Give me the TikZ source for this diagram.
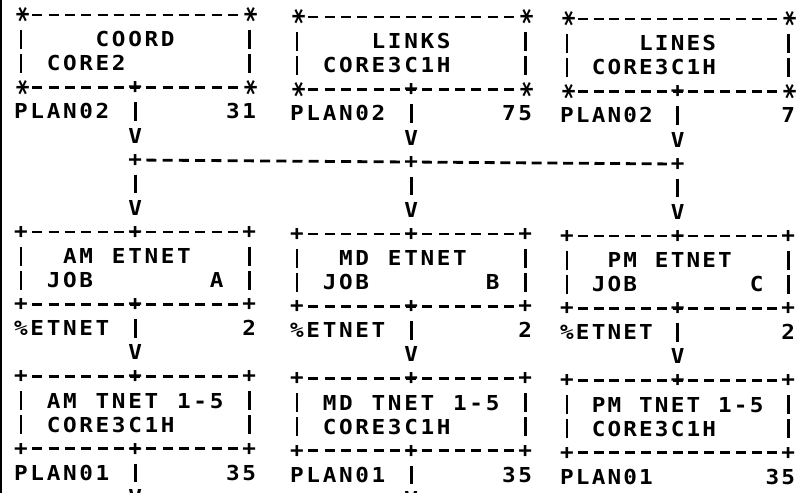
\documentclass[tikz,border=0pt]{standalone}
\usepackage{fontspec}
\newfontfamily\mono{DejaVu Sans Mono}[FakeStretch=1.1]
\newlength\cp \newlength\cg \newlength\cs
\makeatletter
\newcommand\spread[1]{\@tfor\sp@c:=#1\do{\makebox[\cp][c]{\sp@c}}}
\makeatother
\def\R#1{(15+24.1*((#1)-1))}
\tikzset{
  monofont/.style={font=\mono\bfseries\fontsize{20.6pt}{24pt}\selectfont},
  txt/.style={monofont, anchor=base west, inner sep=0pt, outer sep=0pt},
  glyph/.style={monofont, anchor=base, inner sep=0pt, outer sep=0pt},
  cornerglyph/.style={monofont, anchor=center, inner sep=0pt, outer sep=0pt, rotate=90, scale=1.3},
  frame/.style={rectangle, inner sep=0pt, outer sep=0pt, draw=none},
  hd/.style={line width=2.8pt, dash pattern=on 10pt off \cg, shorten <=\cs, shorten >=\cs},
  vd/.style={line width=2.8pt, dash pattern=on 19pt off 5.1pt, shorten <=14.6pt, shorten >=14.6pt},
  conn/.style={line width=2.8pt, shorten <=14.6pt, shorten >=14.6pt},
}
% text: name, column, row, characters
\newcommand\tx[4]{\node[txt] (#1) at ({#2-0.5},{\R{#3}+7.5}) {\spread{#4}};}
% single glyph: name, column, row, glyph, baseline offset
\newcommand\glyphat[5]{\node[glyph] (#1) at (#2,{\R{#3}+#5}) {#4};}
\newcommand\plusat[3]{\glyphat{#1}{#2}{#3}{+}{6.4}}
\newcommand\astat[3]{\node[cornerglyph] (#1) at (#2,{\R{#3}}) {\raisebox{-0.57em}[0pt][0pt]{*}};}
\newcommand\vat[3]{\glyphat{#1}{#2}{#3}{V}{7.5}}
% box frame: name, top row, bottom row
\newcommand\frm[3]{%
  \node[frame, minimum width=14*\cp, minimum height={24.1*((#3)-(#2))}] (#1) at (7,{(\R{#2}+\R{#3})/2}) {};
  \draw[hd] (#1.north west) -- (#1.north east);
  \draw[hd] (#1.south west) -- (#1.south east);
  \draw[vd] (#1.north west) -- (#1.south west);
  \draw[vd] (#1.north east) -- (#1.south east);}
\begin{document}
\begin{tikzpicture}[x=1pt,y=-1pt]
\fill[white] (0,0) rectangle (804,493);
\useasboundingbox (0,0) rectangle (804,493);
\draw[line width=2pt] (1,0) -- (1,493);

% ---------------- column A ----------------
\begin{scope}[shift={(21,0)}, x=16.3pt]
\setlength\cp{16.3pt}\setlength\cg{6.3pt}\setlength\cs{11.3pt}
\frm{coord}{1}{4}
\astat{coordnw}{0}{1}\astat{coordne}{14}{1}\astat{coordsw}{0}{4}\astat{coordse}{14}{4}
\plusat{coords}{7}{4}
\tx{coordla}{5}{2}{COORD}
\tx{coordlb}{2}{3}{CORE2}
\tx{coordpl}{0}{5}{PLAN02}
\tx{coordnum}{13}{5}{31}
\vat{av1}{7}{6}
\plusat{abus}{7}{7}
\vat{av2}{7}{9}
\frm{amjob}{10}{13}
\plusat{amjnw}{0}{10}\plusat{amjn}{7}{10}\plusat{amjne}{14}{10}
\plusat{amjsw}{0}{13}\plusat{amjs}{7}{13}\plusat{amjse}{14}{13}
\tx{amjla}{3}{11}{AM~ETNET}
\tx{amjlb}{2}{12}{JOB~~~~~~~A}
\tx{amjpct}{0}{14}{\%ETNET}
\tx{amjnum}{14}{14}{2}
\vat{av3}{7}{15}
\frm{amt}{16}{19}
\plusat{amtnw}{0}{16}\plusat{amtn}{7}{16}\plusat{amtne}{14}{16}
\plusat{amtsw}{0}{19}\plusat{amts}{7}{19}\plusat{amtse}{14}{19}
\tx{amtla}{2}{17}{AM~TNET~1-5}
\tx{amtlb}{2}{18}{CORE3C1H}
\tx{amtpl}{0}{20}{PLAN01}
\tx{amtnum}{13}{20}{35}
\vat{av4}{7}{21}
\draw[conn] (coords.center) -- (av1.center);
\draw[conn] (abus.center) -- (av2.center);
\draw[conn] (amjs.center) -- (av3.center);
\draw[conn] (amts.center) -- (av4.center);
\end{scope}

% ---------------- column B ----------------
\begin{scope}[shift={(297,2)}, x=16.3pt]
\setlength\cp{16.3pt}\setlength\cg{6.3pt}\setlength\cs{11.3pt}
\frm{links}{1}{4}
\astat{linksnw}{0}{1}\astat{linksne}{14}{1}\astat{linkssw}{0}{4}\astat{linksse}{14}{4}
\plusat{linkss}{7}{4}
\tx{linksla}{5}{2}{LINKS}
\tx{linkslb}{2}{3}{CORE3C1H}
\tx{linkspl}{0}{5}{PLAN02}
\tx{linksnum}{13}{5}{75}
\vat{bv1}{7}{6}
\plusat{bbus}{7}{7}
\vat{bv2}{7}{9}
\frm{mdjob}{10}{13}
\plusat{mdjnw}{0}{10}\plusat{mdjn}{7}{10}\plusat{mdjne}{14}{10}
\plusat{mdjsw}{0}{13}\plusat{mdjs}{7}{13}\plusat{mdjse}{14}{13}
\tx{mdjla}{3}{11}{MD~ETNET}
\tx{mdjlb}{2}{12}{JOB~~~~~~~B}
\tx{mdjpct}{0}{14}{\%ETNET}
\tx{mdjnum}{14}{14}{2}
\vat{bv3}{7}{15}
\frm{mdt}{16}{19}
\plusat{mdtnw}{0}{16}\plusat{mdtn}{7}{16}\plusat{mdtne}{14}{16}
\plusat{mdtsw}{0}{19}\plusat{mdts}{7}{19}\plusat{mdtse}{14}{19}
\tx{mdtla}{2}{17}{MD~TNET~1-5}
\tx{mdtlb}{2}{18}{CORE3C1H}
\tx{mdtpl}{0}{20}{PLAN01}
\tx{mdtnum}{13}{20}{35}
\vat{bv4}{7}{21}
\draw[conn] (linkss.center) -- (bv1.center);
\draw[conn] (bbus.center) -- (bv2.center);
\draw[conn] (mdjs.center) -- (bv3.center);
\draw[conn] (mdts.center) -- (bv4.center);
\end{scope}

% ---------------- column C ----------------
\begin{scope}[shift={(567,4)}, x=15.8pt]
\setlength\cp{15.8pt}\setlength\cg{5.8pt}\setlength\cs{10.8pt}
\frm{lines}{1}{4}
\astat{linesnw}{0}{1}\astat{linesne}{14}{1}\astat{linessw}{0}{4}\astat{linesse}{14}{4}
\plusat{liness}{7}{4}
\tx{linesla}{5}{2}{LINES}
\tx{lineslb}{2}{3}{CORE3C1H}
\tx{linespl}{0}{5}{PLAN02}
\tx{linesnum}{14}{5}{7}
\vat{cv1}{7}{6}
\plusat{cbus}{7}{7}
\vat{cv2}{7}{9}
\frm{pmjob}{10}{13}
\plusat{pmjnw}{0}{10}\plusat{pmjn}{7}{10}\plusat{pmjne}{14}{10}
\plusat{pmjsw}{0}{13}\plusat{pmjs}{7}{13}\plusat{pmjse}{14}{13}
\tx{pmjla}{3}{11}{PM~ETNET}
\tx{pmjlb}{2}{12}{JOB~~~~~~~C}
\tx{pmjpct}{0}{14}{\%ETNET}
\tx{pmjnum}{14}{14}{2}
\vat{cv3}{7}{15}
\frm{pmt}{16}{19}
\plusat{pmtnw}{0}{16}\plusat{pmtn}{7}{16}\plusat{pmtne}{14}{16}
\plusat{pmtsw}{0}{19}\plusat{pmtse}{14}{19}
\tx{pmtla}{2}{17}{PM~TNET~1-5}
\tx{pmtlb}{2}{18}{CORE3C1H}
\tx{pmtpl}{0}{20}{PLAN01}
\tx{pmtnum}{13}{20}{35}
\draw[conn] (liness.center) -- (cv1.center);
\draw[conn] (cbus.center) -- (cv2.center);
\draw[conn] (pmjs.center) -- (cv3.center);
\end{scope}

% ---------------- bus line ----------------
\draw[line width=2.8pt, dash pattern=on 10pt off 6.24pt, shorten <=11.24pt, shorten >=11.24pt] (abus.center) -- (bbus.center);
\draw[line width=2.8pt, dash pattern=on 10pt off 5.7pt, shorten <=10.7pt, shorten >=10.7pt] (bbus.center) -- (cbus.center);
\end{tikzpicture}
\end{document}
